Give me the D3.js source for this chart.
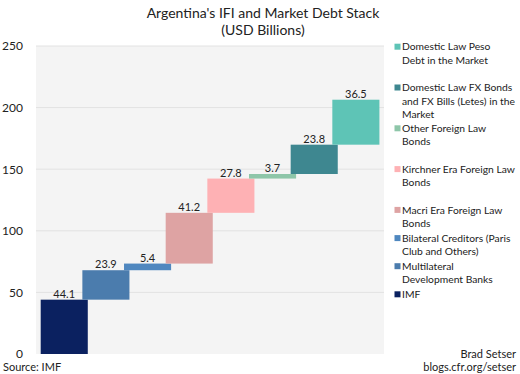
<!DOCTYPE html>
<html>
<head>
<meta charset="utf-8">
<script src="https://cdn.jsdelivr.net/npm/d3@7"></script>
<style>
  body { margin: 0; background: #fff; }
  text { font-family: Lato, "Open Sans", sans-serif; fill: #222; }
</style>
</head>
<body>
<script>
// Size of the picture
const w = 520;
const h = 374;

// Categories, from bottom of the stack to the top
const categories = [
  "IMF",
  "Multilateral Development Banks",
  "Bilateral Creditors (Paris Club and Others)",
  "Macri Era Foreign Law Bonds",
  "Kirchner Era Foreign Law Bonds",
  "Other Foreign Law Bonds",
  "Domestic Law FX Bonds and FX Bills (Letes) in the Market",
  "Domestic Law Peso Debt in the Market"
];

// Values in USD billions
const values = [44.1, 23.9, 5.4, 41.2, 27.8, 3.7, 23.8, 36.5];

// Colours for each category
const colors = ["#0b2160", "#4b7cad", "#4f87bf", "#dea3a3", "#feb1b4", "#8ec6a9", "#3e8790", "#5ec4b6"];

// Legend lines (legend is listed top to bottom, reverse of the stack)
const legendLines = [
  ["Domestic Law Peso", "Debt in the Market"],
  ["Domestic Law FX Bonds", "and FX Bills (Letes) in the", "Market"],
  ["Other Foreign Law", "Bonds"],
  ["Kirchner Era Foreign Law", "Bonds"],
  ["Macri Era Foreign Law", "Bonds"],
  ["Bilateral Creditors (Paris", "Club and Others)"],
  ["Multilateral", "Development Banks"],
  ["IMF"]
];

const yTicks = [0, 50, 100, 150, 200, 250];

// Plot area
const plotLeft = 36;
const plotRight = 384;
const plotTop = 46;
const plotBottom = 354;

const svg = d3.select("body").append("svg").attr("width", w).attr("height", h);

// Waterfall: each bar starts where the last ended
let running = 0;
const dataset = values.map(function (v, i) {
  const start = running;
  running += v;
  return { name: categories[i], value: v, start: start, end: running, color: colors[i] };
});

const yScale = d3.scaleLinear().domain([0, 250]).range([plotBottom, plotTop]);

const xScale = d3.scaleBand()
  .domain(d3.range(dataset.length))
  .range([40.7, 374])
  .padding(0);

// bars are a little wider than the step, so they overlap at the corners
const barWidth = xScale.bandwidth() * 1.13;

// grey background
svg.append("rect")
  .attr("x", plotLeft)
  .attr("y", plotTop)
  .attr("width", plotRight - plotLeft)
  .attr("height", plotBottom - plotTop)
  .attr("fill", "#f4f4f4");

// gridlines
svg.append("g")
  .selectAll("line")
  .data(yTicks.filter(d => d > 0))
  .enter()
  .append("line")
  .attr("x1", plotLeft)
  .attr("x2", plotRight)
  .attr("y1", d => yScale(d))
  .attr("y2", d => yScale(d))
  .attr("stroke", "#e2e2e2")
  .attr("stroke-width", 1);

// y axis labels
const yAxis = d3.axisLeft(yScale).tickValues(yTicks).tickSize(0).tickPadding(0);
const yAxisG = svg.append("g")
  .attr("transform", "translate(23,0)")
  .call(yAxis);
yAxisG.select(".domain").remove();
yAxisG.selectAll("text")
  .style("font-size", "12px")
  .style("font-family", "Lato, sans-serif")
  .attr("fill", "#222");

// bars
svg.selectAll("rect.bar")
  .data(dataset)
  .enter()
  .append("rect")
  .attr("class", "bar")
  .attr("x", (d, i) => xScale(i))
  .attr("y", d => yScale(d.end))
  .attr("width", barWidth)
  .attr("height", d => yScale(d.start) - yScale(d.end))
  .attr("fill", d => d.color);

// value labels above bars
svg.selectAll("text.val")
  .data(dataset)
  .enter()
  .append("text")
  .attr("class", "val")
  .attr("x", (d, i) => xScale(i) + barWidth / 2)
  .attr("y", d => yScale(d.end) - 2)
  .attr("text-anchor", "middle")
  .style("font-size", "11px")
  .text(d => d.value.toFixed(1));

// title
svg.append("text")
  .attr("x", 263)
  .attr("y", 18)
  .attr("text-anchor", "middle")
  .style("font-size", "14px")
  .text("Argentina's IFI and Market Debt Stack");
svg.append("text")
  .attr("x", 263)
  .attr("y", 35)
  .attr("text-anchor", "middle")
  .style("font-size", "14px")
  .text("(USD Billions)");

// legend
const legendColors = colors.slice().reverse();
const legendY = function (i) {
  return i < 5 ? 46.7 + i * 40.8 : 210 + (i - 4) * 28.1;
};
const legend = svg.append("g");
legendLines.forEach(function (lines, i) {
  const y0 = legendY(i);
  legend.append("rect")
    .attr("x", 394.5)
    .attr("y", y0 - 3)
    .attr("width", 6)
    .attr("height", 6)
    .attr("fill", legendColors[i]);
  const t = legend.append("text")
    .attr("x", 402)
    .attr("y", y0 + 3.7)
    .style("font-size", "10.3px");
  lines.forEach(function (line, j) {
    t.append("tspan")
      .attr("x", 402)
      .attr("dy", j === 0 ? 0 : 13.3)
      .text(line);
  });
});

// source and credit
svg.append("text")
  .attr("x", 3)
  .attr("y", 371)
  .style("font-size", "11px")
  .text("Source: IMF");
svg.append("text")
  .attr("x", 516)
  .attr("y", 358)
  .attr("text-anchor", "end")
  .style("font-size", "11px")
  .text("Brad Setser");
svg.append("text")
  .attr("x", 516)
  .attr("y", 371)
  .attr("text-anchor", "end")
  .style("font-size", "11px")
  .text("blogs.cfr.org/setser");
</script>
</body>
</html>
